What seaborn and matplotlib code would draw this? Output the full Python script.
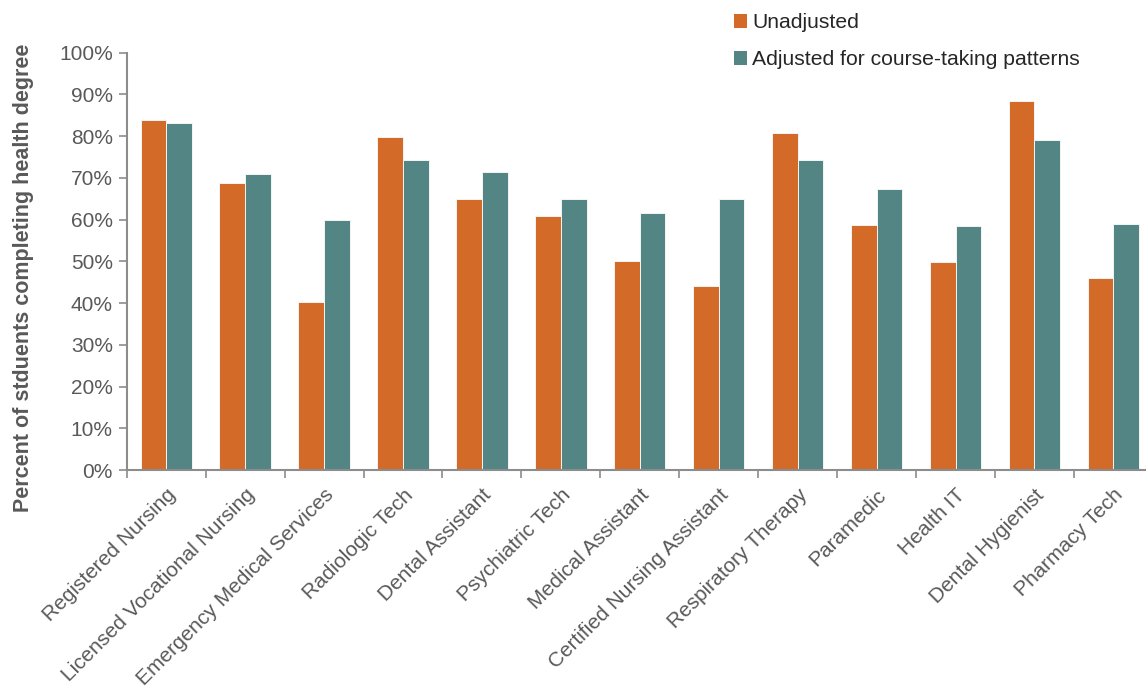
import matplotlib
matplotlib.use("Agg")
import matplotlib.pyplot as plt
import seaborn as sns
import pandas as pd
import numpy as np
from matplotlib.ticker import PercentFormatter, FixedLocator, NullFormatter
from matplotlib.patches import Patch

programs = [
    "Registered Nursing", "Licensed Vocational Nursing", "Emergency Medical Services",
    "Radiologic Tech", "Dental Assistant", "Psychiatric Tech", "Medical Assistant",
    "Certified Nursing Assistant", "Respiratory Therapy", "Paramedic", "Health IT",
    "Dental Hygienist", "Pharmacy Tech",
]
unadjusted = [83.9, 68.9, 40.3, 79.9, 64.9, 60.8, 50.2, 44.0, 80.8, 58.6, 49.8, 88.4, 46.0]
adjusted = [83.1, 71.0, 60.0, 74.3, 71.5, 64.9, 61.6, 64.9, 74.3, 67.3, 58.5, 79.0, 59.0]
series_names = ["Unadjusted", "Adjusted for course-taking patterns"]
y_ticks = [0, 10, 20, 30, 40, 50, 60, 70, 80, 90, 100]

df = pd.DataFrame({
    "program": programs * 2,
    "series": [series_names[0]] * len(programs) + [series_names[1]] * len(programs),
    "value": unadjusted + adjusted,
})

sns.set_style("white")
plt.rcParams["font.family"] = ["Liberation Sans", "DejaVu Sans"]

text_color = "#595959"
axis_color = "#8c8c8c"
palette = {series_names[0]: "#D46A27", series_names[1]: "#528584"}

fig = plt.figure(figsize=(11.46, 6.90), dpi=100)
ax = fig.add_axes([0.1106, 0.3188, 0.8954, 0.6048])

sns.barplot(data=df, x="program", y="value", hue="series", order=programs,
            hue_order=series_names, palette=palette, width=0.65, gap=0,
            edgecolor="#f4f4f4", linewidth=0.7, saturation=1, legend=False, ax=ax)

ax.set_ylim(0, 100)
ax.set_xlim(-0.5, len(programs) - 0.5)
ax.set_yticks(y_ticks)
ax.yaxis.set_major_formatter(PercentFormatter(decimals=0))
ax.tick_params(axis="y", labelsize=15, labelcolor=text_color, length=6, width=1.2,
               direction="out", pad=4, left=True, color=axis_color)

# category labels at bar-group centers, tick marks at group boundaries
ax.set_xticks(range(len(programs)))
ax.set_xticklabels(programs, rotation=45, ha="right", rotation_mode="anchor",
                   fontsize=15, color=text_color)
ax.tick_params(axis="x", which="major", length=0, pad=11)
ax.xaxis.set_minor_locator(FixedLocator(np.arange(-0.5, len(programs) + 0.5, 1)))
ax.xaxis.set_minor_formatter(NullFormatter())
ax.tick_params(axis="x", which="minor", length=6, width=1.2, color=axis_color,
               direction="out", bottom=True)

for side in ["top", "right"]:
    ax.spines[side].set_visible(False)
for side in ["left", "bottom"]:
    ax.spines[side].set_color(axis_color)
    ax.spines[side].set_linewidth(1.5)

ax.set_xlabel("")
ax.set_ylabel("Percent of stduents completing health degree", fontsize=15.5,
              fontweight="bold", color=text_color)
ax.yaxis.set_label_coords(-0.09, 0.46)

handles = [Patch(facecolor=palette[s], edgecolor="none") for s in series_names]
fig.legend(handles, series_names, loc="upper left", bbox_to_anchor=(0.624, 1.008),
           frameon=False, fontsize=15.2, handlelength=0.6, handleheight=0.6,
           handletextpad=0.25, labelspacing=0.85, labelcolor="#262626")

fig.savefig("out.png", dpi=100, facecolor="white")
